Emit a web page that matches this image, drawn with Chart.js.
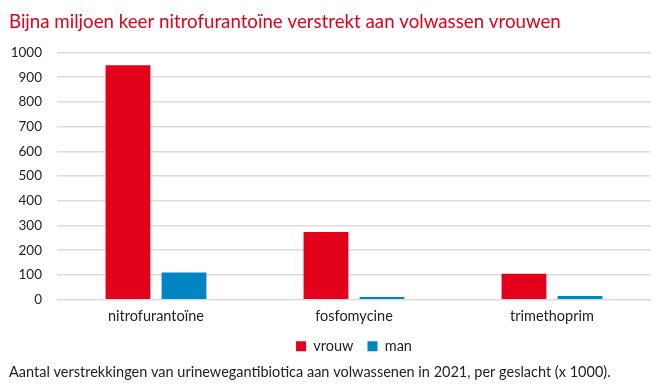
<!DOCTYPE html>
<html>
<head>
<meta charset="utf-8">
<script src="https://cdn.jsdelivr.net/npm/chart.js@4"></script>
<style>
  html, body { margin: 0; padding: 0; background: #fff; }
  #wrap { width: 663px; height: 389px; }
</style>
</head>
<body>
<div id="wrap"><canvas id="myChart" width="663" height="389"></canvas></div>
<script>
// waarden in duizenden
var categories = ["nitrofurantoïne", "fosfomycine", "trimethoprim"];
var vrouw = [948, 274, 105];
var man = [110, 11, 15];
var yTicks = [0, 100, 200, 300, 400, 500, 600, 700, 800, 900, 1000];

Chart.defaults.font.family = "Lato";
Chart.defaults.color = "#222";

const chart = document.getElementById("myChart");
var barChart = new Chart(chart, {
    type: 'bar',
    data: {
        labels: categories,
        datasets: [
            {
                label: "vrouw",
                backgroundColor: "#e2001a",
                data: vrouw
            },
            {
                label: "man",
                backgroundColor: "#0085c3",
                data: man
            }
        ]
    },
    options: {
        responsive: false,
        animation: false,
        layout: { padding: { left: 9, right: 12, top: 0, bottom: 0 } },
        datasets: {
            bar: { categoryPercentage: 0.566, barPercentage: 0.8 }
        },
        scales: {
            x: {
                grid: { display: false },
                border: { display: false },
                ticks: { font: { size: 14.5 }, padding: 0, color: "#222" }
            },
            y: {
                min: 0,
                max: 1000,
                afterBuildTicks: function (scale) {
                    scale.ticks = yTicks.map(function (v) { return { value: v }; });
                },
                afterFit: function (scale) { scale.width = 48; },
                grid: { color: "#dcdcdc", lineWidth: 1.5, drawTicks: false },
                border: { display: false },
                ticks: {
                    font: { size: 13.5 },
                    padding: 15,
                    color: "#222",
                    callback: function (v) { return String(v); }
                }
            }
        },
        plugins: {
            title: {
                display: true,
                text: "Bijna miljoen keer nitrofurantoïne verstrekt aan volwassen vrouwen",
                align: "start",
                color: "#e2001a",
                font: { size: 18.7, weight: "normal" },
                padding: { top: 11, bottom: 19 }
            },
            subtitle: {
                display: true,
                position: "bottom",
                text: "Aantal verstrekkingen van urinewegantibiotica aan volwassenen in 2021, per geslacht (x 1000).",
                align: "start",
                color: "#222",
                font: { size: 14.5 },
                padding: { top: 0, bottom: 8 }
            },
            legend: {
                position: "bottom",
                fullSize: false,
                labels: {
                    boxWidth: 10,
                    boxHeight: 10,
                    padding: 14,
                    font: { size: 14.5 },
                    color: "#222"
                }
            },
            tooltip: { enabled: false }
        }
    }
});
</script>
</body>
</html>
